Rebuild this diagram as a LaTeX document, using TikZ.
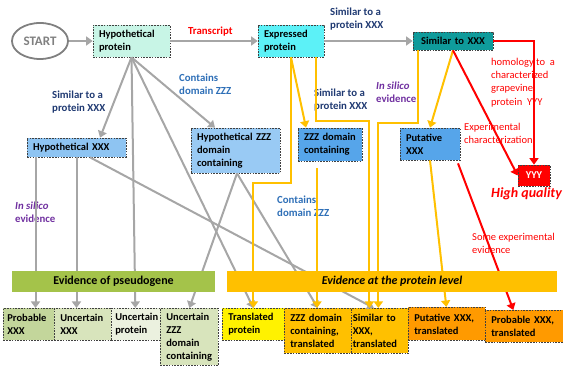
\documentclass[tikz,border=0pt]{standalone}
\usepackage{fontspec}
\setmainfont{Carlito}
\usetikzlibrary{arrows.meta,shapes.geometric}
\definecolor{cMint}{HTML}{C8F5E6}
\definecolor{cCyan}{HTML}{5CF1F7}
\definecolor{cTeal}{HTML}{0F9B9B}
\definecolor{cLBlue}{HTML}{8EC4F2}
\definecolor{cLBlueB}{HTML}{99CAF4}
\definecolor{cMBlue}{HTML}{56A5EA}
\definecolor{cGreen}{HTML}{A4C34A}
\definecolor{cOrange}{HTML}{FFC000}
\definecolor{cDOrange}{HTML}{FF9A00}
\definecolor{cGa}{HTML}{C3D69B}
\definecolor{cGb}{HTML}{D8E4BC}
\definecolor{cGc}{HTML}{EBF1DF}
\definecolor{cGray}{HTML}{A6A6A6}
\definecolor{cNavy}{HTML}{203A72}
\definecolor{cBlue}{HTML}{2E6FB7}
\definecolor{cPurple}{HTML}{7030A0}
\definecolor{cRed}{HTML}{FF0000}
\begin{document}
\begin{tikzpicture}[x=1pt,y=-1pt,
  box/.style={draw=black!75, dash pattern=on 1.6pt off 1.2pt, line width=0.7pt,
    font=\bfseries\fontsize{10.5}{13}\selectfont, inner xsep=6pt, inner ysep=1pt, align=left},
  bbox/.style={box, anchor=north west},
  bar/.style={inner sep=0pt, font=\bfseries\fontsize{12}{14}\selectfont},
  lab/.style={font=\bfseries\fontsize{10.8}{13}\selectfont, align=left, inner sep=0pt, anchor=north west},
  rlab/.style={font=\fontsize{10.5}{13.2}\selectfont, text=cRed, align=left, inner sep=0pt, anchor=north west},
  garr/.style={draw=cGray, line width=2pt, -{Triangle[length=6.5pt,width=9pt]}},
  yarr/.style={draw=cOrange, line width=2pt, -{Triangle[length=6.5pt,width=9pt]}},
  rarr/.style={draw=cRed, line width=2pt, -{Triangle[length=6.5pt,width=9pt]}}]
\useasboundingbox (0,0) rectangle (563,366);
% top row
\node[ellipse, draw=gray, line width=1.8pt, minimum width=56pt, minimum height=36pt, inner sep=0pt,
  font=\bfseries\fontsize{13}{15}\selectfont, text=gray] (start) at (40,41) {START};
\node[box, fill=cMint, text width=65pt, minimum height=32pt] (hp) at (131.5,41) {Hypothetical\\protein};
\node[box, fill=cCyan, text width=54pt, minimum height=32pt] (ep) at (291,41) {Expressed\\protein};
\node[box, fill=cTeal, text width=70pt, minimum height=18pt, inner xsep=5pt, align=center] (sx) at (453,41) {Similar to XXX};
% middle row
\node[box, fill=cLBlue, text width=87pt, minimum height=19pt] (hx) at (76.5,147.5) {Hypothetical XXX};
\node[box, fill=cLBlueB, text width=77pt, minimum height=45pt] (hz) at (235.5,150.5) {Hypothetical ZZZ\\domain\\containing};
\node[box, fill=cMBlue, text width=52pt, minimum height=33pt] (zd) at (330,144.5) {ZZZ domain\\containing};
\node[box, fill=cMBlue, text width=48pt, minimum height=32pt] (px) at (430,144) {Putative\\XXX};
\node[box, fill=cRed, text=white, align=center, inner xsep=2pt, text width=28pt, minimum height=21pt] (yyy) at (534,175.5) {YYY};
\node[font=\bfseries\itshape\fontsize{14}{16}\selectfont, text=cRed, inner sep=0pt, anchor=north west] (hq) at (491,187) {High quality};
% bottom row
\node[bbox, fill=cGa, inner xsep=4pt, text width=43pt, minimum height=32pt] (b1) at (3,308) {Probable\\XXX};
\node[bbox, fill=cGb, text width=45pt, minimum height=32pt] (b2) at (54,308) {Uncertain\\XXX};
\node[bbox, fill=cGc, inner xsep=4pt, text width=41pt, minimum height=32pt] (b3) at (111,308) {Uncertain\\protein};
\node[bbox, fill=cGb, text width=46pt, minimum height=57pt] (b4) at (160,308) {Uncertain\\ZZZ\\domain\\containing};
\node[bbox, fill=yellow, text width=50pt, minimum height=32pt] (b5) at (222,308) {Translated\\protein};
\node[bbox, fill=cOrange, text width=55pt, minimum height=45pt] (b6) at (284,308) {ZZZ domain\\containing,\\translated};
\node[bbox, fill=cOrange, inner xsep=1.5pt, text width=54pt, minimum height=45pt] (b7) at (351,308) {Similar to\\XXX,\\translated};
\node[bbox, fill=cDOrange, text width=65pt, minimum height=33pt] (b8) at (408,307) {Putative XXX,\\translated};
\node[bbox, fill=cDOrange, text width=66pt, minimum height=32pt] (b9) at (485,310) {Probable XXX,\\translated};
% labels
\node[lab, text=cRed] (l1) at (188,27) {Transcript};
\node[lab, text=cNavy] (l2) at (330,8) {Similar to a\\protein XXX};
\node[lab, text=cNavy] (l3) at (52,90.5) {Similar to a\\protein XXX};
\node[lab, text=cBlue] (l4) at (179,73.5) {Contains\\domain ZZZ};
\node[lab, text=cNavy] (l5) at (314,89) {Similar to a\\protein XXX};
\node[lab, text=cPurple] (l6) at (376,82) {\textit{In silico}\\evidence};
\node[lab, text=cBlue] (l7) at (277,196) {Contains\\domain ZZZ};
\node[lab, text=cPurple] (l8) at (15,202) {\textit{In silico}\\evidence};
\node[rlab] (l9) at (491,58) {homology to~ a\\characterized\\grapevine\\protein~ YYY};
\node[rlab] (l10) at (464,123) {Experimental\\characterization};
\node[rlab] (l11) at (472,233) {Some experimental\\evidence};
% gray connectors
\draw[garr] (start) -- (hp);
\draw[garr] (hp) -- (ep);
\draw[garr] (ep) -- (sx);
\draw[garr] (hp.south) -- ([xshift=23.5pt]hx.north);
\draw[garr] (hp.south) -- ([xshift=-20.5pt]hz.north);
\draw[garr] (hp.south) -- ([xshift=-0.5pt]b3.north);
\draw[garr] (hp.south) -- (b5.north);
\draw[garr] ([xshift=-41pt]hx.south) -- ([xshift=-41pt]hx.south |- b1.north);
\draw[garr] (hx.south) -- (hx.south |- b2.north);
\draw[garr] ([xshift=13.5pt]hx.south) -- ([xshift=-6pt]b7.north);
\draw[garr] ([xshift=1.5pt]hz.south) -- (b4.north);
\draw[garr] ([xshift=1.5pt]hz.south) -- (b6.north);
% yellow connectors
\draw[yarr] (ep.south) -- ([xshift=-24pt]zd.north);
\draw[yarr] (ep.south) -- ++(0,126) -| (b5.north);
\draw[yarr] ([xshift=25pt]ep.south) -- ++(0,64) -| ([xshift=-10.5pt]b7.north);
\draw[yarr] ([xshift=-13pt,yshift=-7pt]zd.south) -- ([xshift=-13pt]zd.south |- b6.north);
\draw[yarr] ([xshift=-35pt]sx.south) -- ++(0,73) -| ([xshift=-1.5pt]b7.north);
\draw[yarr] (sx.south) -- (px.north);
\draw[yarr] (px.south) -- ([xshift=-0.5pt]b8.north);
% red connectors
\draw[rarr] (sx.south) -- (yyy.west);
\draw[rarr] (sx.east) -| (yyy.north);
\draw[rarr] ([xshift=28pt,yshift=-3pt]px.south) -- ([xshift=-11pt]b9.north);
% evidence bars (on top of the connectors)
\node[bar, fill=cGreen, minimum width=203pt, minimum height=21pt] (pg) at (113.5,281.5) {Evidence of pseudogene};
\node[bar, fill=cOrange, minimum width=330pt, minimum height=21pt, font=\bfseries\itshape\fontsize{12}{14}\selectfont] (pl) at (392,281.5) {Evidence at the protein level};
\end{tikzpicture}
\end{document}
